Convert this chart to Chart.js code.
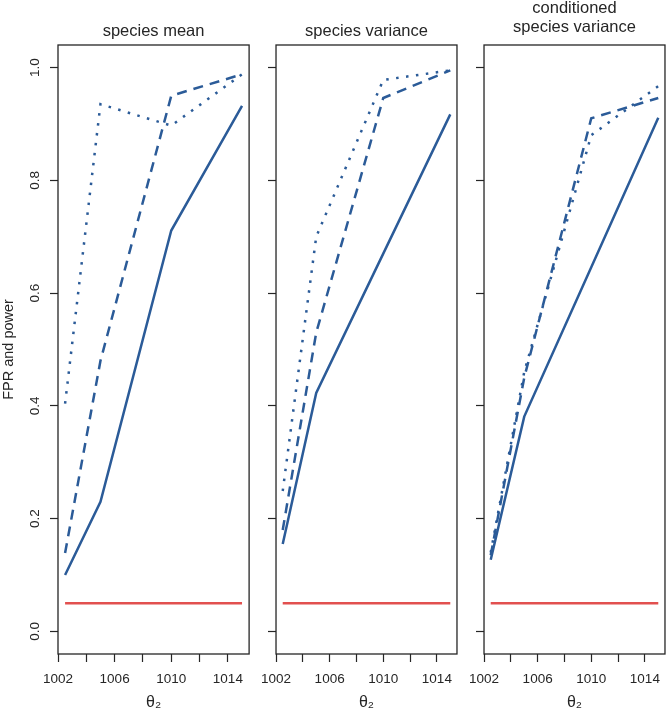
<!DOCTYPE html>
<html>
<head>
<meta charset="utf-8">
<script src="https://cdn.jsdelivr.net/npm/chart.js@4.4.1/dist/chart.umd.min.js"></script>
<style>
  html, body { margin: 0; padding: 0; background: #fff; }
  #wrap { position: relative; width: 668px; height: 712px; }
  .pane { position: absolute; top: 0; height: 712px; }
</style>
</head>
<body>
<div id="wrap">
  <div class="pane" style="left:0px;width:252px"><canvas id="c0"></canvas></div>
  <div class="pane" style="left:252px;width:208px"><canvas id="c1"></canvas></div>
  <div class="pane" style="left:460px;width:208px"><canvas id="c2"></canvas></div>
</div>
<script>
// ---- data ----
const theta2 = [1002.5, 1005, 1010, 1015];
const panelTitles = [["species mean"], ["species variance"], ["conditioned", "species variance"]];

const meanSolid  = [0.100, 0.230, 0.711, 0.932];
const meanDashed = [0.139, 0.480, 0.950, 0.988];
const meanDotted = [0.404, 0.935, 0.897, 0.988];

const varSolid  = [0.155, 0.423, 0.670, 0.917];
const varDashed = [0.180, 0.530, 0.946, 0.995];
const varDotted = [0.249, 0.700, 0.978, 0.995];

const condSolid  = [0.127, 0.381, 0.646, 0.911];
const condDashed = [0.135, 0.450, 0.910, 0.946];
const condDotted = [0.140, 0.460, 0.880, 0.967];

const fprLevel = [0.05, 0.05, 0.05, 0.05];

const xTicks = [1002, 1004, 1006, 1008, 1010, 1012, 1014];
const xTickLabels = ["1002", "", "1006", "", "1010", "", "1014"];
const yTicks = [0, 0.2, 0.4, 0.6, 0.8, 1.0];
const yTickLabels = ["0.0", "0.2", "0.4", "0.6", "0.8", "1.0"];

const panelSeries = [
  [meanSolid, meanDashed, meanDotted],
  [varSolid, varDashed, varDotted],
  [condSolid, condDashed, condDotted]
];

// ---- styling ----
const BLUE = '#2b5b98';
const RED = '#e2504f';
const INK = '#262626';
const FONT = '"Liberation Sans", Arial, Helvetica, sans-serif';

const pts = (ys) => theta2.map((x, i) => ({ x: x, y: ys[i] }));

function boxPlugin(idx) {
  return {
    id: 'box' + idx,
    afterDraw(chart) {
      const { ctx, chartArea: a } = chart;
      ctx.save();
      ctx.strokeStyle = INK;
      ctx.lineWidth = 1.3;
      ctx.strokeRect(a.left, a.top, a.right - a.left, a.bottom - a.top);
      // titles
      ctx.fillStyle = INK;
      ctx.font = '16.5px ' + FONT;
      ctx.textAlign = 'center';
      ctx.textBaseline = 'alphabetic';
      const cx = (a.left + a.right) / 2;
      const lines = panelTitles[idx];
      if (lines.length === 1) {
        ctx.fillText(lines[0], cx, 36);
      } else {
        ctx.fillText(lines[0], cx, 12.5);
        ctx.fillText(lines[1], cx, 31.5);
      }
      // rotated y tick labels on the first panel
      if (idx === 0) {
        const ys = chart.scales.y;
        ctx.font = '13.5px ' + FONT;
        ctx.textBaseline = 'middle';
        yTicks.forEach((v, i) => {
          const py = ys.getPixelForValue(v);
          ctx.save();
          ctx.translate(35, py);
          ctx.rotate(-Math.PI / 2);
          ctx.fillText(yTickLabels[i], 0, 0);
          ctx.restore();
        });
      }
      ctx.restore();
    }
  };
}

function makeChart(idx) {
  const series = panelSeries[idx];
  const yWidth = idx === 0 ? 58 : 15;
  new Chart(document.getElementById('c' + idx), {
    type: 'line',
    data: {
      datasets: [
        { data: pts(series[0]), borderColor: BLUE, borderWidth: 2.5, pointRadius: 0, tension: 0 },
        { data: pts(series[1]), borderColor: BLUE, borderWidth: 2.5, pointRadius: 0, tension: 0, borderDash: [10, 7] },
        { data: pts(series[2]), borderColor: BLUE, borderWidth: 2.5, pointRadius: 0, tension: 0, borderDash: [2.5, 7.5] },
        { data: pts(fprLevel), borderColor: RED, borderWidth: 2.5, pointRadius: 0, tension: 0 }
      ]
    },
    options: {
      responsive: true,
      maintainAspectRatio: false,
      animation: false,
      devicePixelRatio: 1,
      layout: { padding: { top: 45, right: 1, left: 0, bottom: 0 } },
      plugins: { legend: { display: false }, tooltip: { enabled: false }, title: { display: false } },
      scales: {
        x: {
          type: 'linear',
          min: 1002, max: 1015.5,
          afterBuildTicks: (s) => { s.ticks = xTicks.map(v => ({ value: v })); },
          afterFit: (s) => { s.height = 58; },
          border: { display: false },
          grid: { drawOnChartArea: false, drawTicks: true, tickLength: 8, tickColor: INK, tickWidth: 1.2 },
          ticks: {
            color: INK, font: { family: FONT, size: 13.5 }, padding: 9, maxRotation: 0, autoSkip: false,
            callback: (v) => { const i = xTicks.indexOf(v); return i >= 0 ? xTickLabels[i] : ''; }
          },
          title: { display: true, text: 'θ₂', color: INK, font: { family: FONT, size: 16 }, padding: { top: 0, bottom: 0 } }
        },
        y: {
          type: 'linear',
          min: -0.04, max: 1.04,
          afterBuildTicks: (s) => { s.ticks = yTicks.map(v => ({ value: v })); },
          afterFit: (s) => { s.width = yWidth; },
          border: { display: false },
          grid: { drawOnChartArea: false, drawTicks: true, tickLength: 8, tickColor: INK, tickWidth: 1.2 },
          ticks: { display: false },
          title: { display: idx === 0, text: 'FPR and power', color: INK, font: { family: FONT, size: 14.5 }, padding: { top: 0, bottom: 0 } }
        }
      }
    },
    plugins: [boxPlugin(idx)]
  });
}

[0, 1, 2].forEach(makeChart);
</script>
</body>
</html>
